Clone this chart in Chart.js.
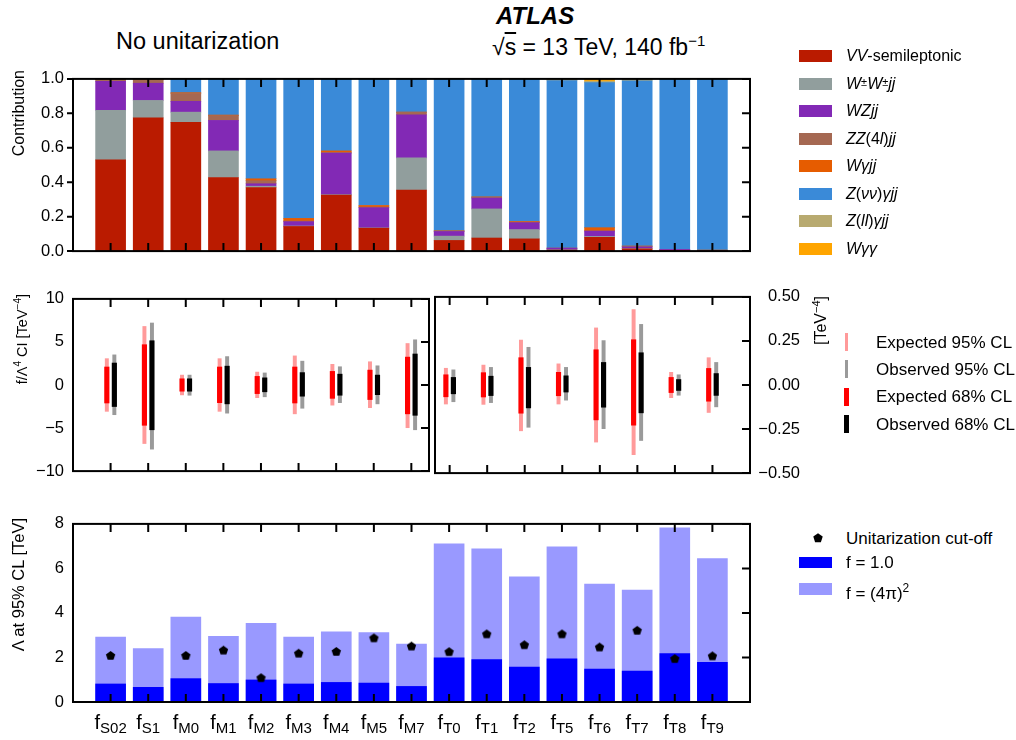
<!DOCTYPE html>
<html><head><meta charset="utf-8">
<script src="https://cdn.jsdelivr.net/npm/chart.js@4.4.1/dist/chart.umd.min.js"></script>
<style>
body{margin:0;background:#fff;}
#wrap{position:relative;width:1016px;height:740px;background:#fff;overflow:hidden;font-family:'Liberation Sans',Arial,Helvetica,sans-serif;color:#000;}
.abs{position:absolute;white-space:nowrap;}
canvas{position:absolute;}
.sw{position:absolute;width:33px;height:12px;}
.lt{position:absolute;font-size:16px;line-height:16px;white-space:nowrap;}
.vt{position:absolute;white-space:nowrap;transform-origin:0 0;transform:rotate(-90deg) translateX(-100%);}
.xl{position:absolute;top:712px;transform:translateX(-50%);white-space:nowrap;line-height:20px;}
.xf{font-size:20px;}
.xs{font-size:15px;position:relative;top:4px;}
.mk{position:absolute;width:5px;height:18px;}
</style></head><body><div id="wrap">
<canvas id="c1" width="800" height="210" style="left:0;top:60px"></canvas>
<canvas id="c2" width="440" height="210" style="left:0;top:280px"></canvas>
<canvas id="c3" width="400" height="210" style="left:420px;top:280px"></canvas>
<canvas id="c4" width="800" height="235" style="left:0;top:505px"></canvas>

<div class="abs" style="left:496px;top:4px;font-size:24px;line-height:24px;font-weight:bold;font-style:italic;">ATLAS</div>
<div class="abs" style="left:116px;top:30px;font-size:23.5px;line-height:23px;">No unitarization</div>
<div class="abs" style="left:492px;top:29px;font-size:23px;line-height:23px;">√<span style="text-decoration:overline">s</span> = 13 TeV, 140 fb<sup style="font-size:15px;">−1</sup></div>

<div class="vt" style="left:11px;top:70px;font-size:16px;line-height:16px;">Contribution</div>
<div class="vt" style="left:10px;top:294px;font-size:14.5px;line-height:16px;">f/Λ<sup style="font-size:10px">4</sup> CI [TeV<sup style="font-size:10px">−4</sup>]</div>
<div class="vt" style="left:807px;top:296px;font-size:16px;line-height:18px;">[TeV<sup style="font-size:11px">−4</sup>]</div>
<div class="vt" style="left:10px;top:518px;font-size:16.5px;line-height:16px;">Λ at 95% CL [TeV]</div>

<div id="leg1"></div>
<div id="leg2"></div>
<div id="leg3"></div>
</div>
<script>
// ---------------- data ----------------
const categories = ['S02','S1','M0','M1','M2','M3','M4','M5','M7','T0','T1','T2','T5','T6','T7','T8','T9'];

// Top panel: relative contribution of each analysis channel
const vvSemileptonic = [0.530,0.774,0.748,0.427,0.369,0.143,0.326,0.133,0.355,0.062,0.076,0.071,0.006,0.080,0.013,0.004,0.002];
const wpmwpmjj       = [0.288,0.101,0.059,0.155,0.008,0.003,0.002,0.002,0.186,0.025,0.169,0.054,0.002,0.005,0.002,0.001,0.000];
const wzjj           = [0.168,0.100,0.063,0.177,0.014,0.025,0.241,0.117,0.250,0.027,0.063,0.040,0.009,0.031,0.009,0.005,0.000];
const zz4ljj         = [0.012,0.020,0.045,0.028,0.018,0.004,0.004,0.004,0.016,0.002,0.005,0.003,0.000,0.002,0.005,0.000,0.000];
const wgammajj       = [0.002,0.000,0.005,0.003,0.011,0.015,0.009,0.009,0.000,0.002,0.002,0.004,0.000,0.018,0.000,0.000,0.004];
const znunugammajj   = [0.000,0.000,0.080,0.210,0.580,0.810,0.418,0.735,0.193,0.882,0.685,0.828,0.973,0.842,0.960,0.988,0.992];
const zllgammajj     = [0.000,0.005,0.000,0.000,0.000,0.000,0.000,0.000,0.000,0.000,0.000,0.000,0.010,0.009,0.011,0.002,0.002];
const wgammagamma    = [0.000,0.000,0.000,0.000,0.000,0.000,0.000,0.000,0.000,0.000,0.000,0.000,0.000,0.013,0.000,0.000,0.000];

// Middle panel: confidence intervals, [low, high]
// S/M operators (left axis, TeV^-4)
const smExp95 = [[-3.06,3.06],[-6.8,6.8],[-1.15,1.15],[-3.06,3.06],[-1.47,1.5],[-3.35,3.38],[-2.34,2.4],[-2.63,2.7],[-4.96,4.82]];
const smExp68 = [[-2.09,2.09],[-4.68,4.68],[-0.72,0.72],[-2.05,2.09],[-1.0,1.0],[-2.09,2.09],[-1.55,1.58],[-1.69,1.73],[-3.35,3.24]];
const smObs95 = [[-3.45,3.5],[-7.45,7.2],[-1.19,1.15],[-3.27,3.3],[-1.37,1.4],[-2.7,2.77],[-2.05,2.12],[-2.19,2.23],[-5.2,5.25]];
const smObs68 = [[-2.5,2.55],[-5.2,5.14],[-0.72,0.72],[-2.19,2.19],[-0.79,0.83],[-1.3,1.44],[-1.19,1.26],[-1.12,1.15],[-3.52,3.6]];
// T operators (right axis, TeV^-4)
const tExp95 = [[-0.108,0.095],[-0.11,0.113],[-0.26,0.255],[-0.108,0.12],[-0.324,0.324],[-0.396,0.428],[-0.072,0.072],[-0.156,0.155]];
const tExp68 = [[-0.067,0.058],[-0.068,0.07],[-0.16,0.155],[-0.061,0.072],[-0.198,0.2],[-0.228,0.257],[-0.043,0.043],[-0.092,0.094]];
const tObs95 = [[-0.095,0.086],[-0.10,0.10],[-0.24,0.214],[-0.086,0.10],[-0.248,0.252],[-0.315,0.344],[-0.058,0.058],[-0.124,0.128]];
const tObs68 = [[-0.05,0.043],[-0.06,0.05],[-0.13,0.10],[-0.04,0.052],[-0.126,0.128],[-0.158,0.183],[-0.031,0.031],[-0.059,0.065]];

// Bottom panel: Lambda at 95% CL [TeV]
const lambdaF1     = [0.81,0.66,1.05,0.83,0.99,0.81,0.88,0.85,0.70,1.98,1.91,1.57,1.94,1.48,1.39,2.17,1.78];
const lambdaF4pi2  = [2.92,2.40,3.81,2.95,3.53,2.92,3.15,3.12,2.60,7.10,6.88,5.62,6.97,5.30,5.03,7.82,6.44];
const unitCutoff   = [2.09,null,2.09,2.33,1.09,2.19,2.27,2.88,2.51,2.26,3.06,2.57,3.06,2.47,3.22,1.95,2.07];

// ---------------- styling ----------------
Chart.defaults.font.family = "'Liberation Sans', Arial, Helvetica, sans-serif";
Chart.defaults.font.size = 16;
Chart.defaults.color = '#000';
Chart.defaults.animation = false;

const topSeries = [
  {name:'<i>VV</i>-semileptonic', values: vvSemileptonic, color:'#BA1B00'},
  {name:'<i>W</i><span style="font-size:11px;position:relative;top:-3px">±</span><i>W</i><span style="font-size:11px;position:relative;top:-3px">±</span><i>jj</i>', values: wpmwpmjj, color:'#919E9D'},
  {name:'<i>WZjj</i>', values: wzjj, color:'#8229B5'},
  {name:'<i>ZZ</i>(4<i>l</i>)<i>jj</i>', values: zz4ljj, color:'#A56852'},
  {name:'<i>Wγjj</i>', values: wgammajj, color:'#E65C00'},
  {name:'<i>Z</i>(<i>νν</i>)<i>γjj</i>', values: znunugammajj, color:'#3A8AD8'},
  {name:'<i>Z</i>(<i>ll</i>)<i>γjj</i>', values: zllgammajj, color:'#B8AA70'},
  {name:'<i>Wγγ</i>', values: wgammagamma, color:'#FFA500'}
];

const framePlugin = {
  id: 'frame',
  afterDatasetsDraw(chart, args, o) {
    if (!o || !o.on) return;
    const ctx = chart.ctx, a = chart.chartArea;
    const xs = chart.scales.x, ys = chart.scales.y;
    ctx.save();
    ctx.strokeStyle = '#000';
    ctx.lineWidth = 2;
    ctx.beginPath();
    (o.xTicks || []).forEach(v => {
      const p = xs.getPixelForValue(v);
      ctx.moveTo(p, a.bottom); ctx.lineTo(p, a.bottom - 8);
      ctx.moveTo(p, a.top); ctx.lineTo(p, a.top + 8);
    });
    ys.ticks.forEach(t => {
      const p = ys.getPixelForValue(t.value);
      if (o.rightIn) { ctx.moveTo(a.right, p); ctx.lineTo(a.right - 8, p); }
      if (o.leftOut) { ctx.moveTo(a.left, p); ctx.lineTo(a.left - 6, p); }
    });
    ctx.stroke();
    ctx.strokeRect(a.left, a.top, a.right - a.left, a.bottom - a.top);
    ctx.restore();
  }
};

const allIdx = categories.map((c, i) => i);
const minus = s => String(s).replace('-', '\u2212');

function yAxis(min, max, step, fmt, width, extra) {
  return Object.assign({
    min, max,
    ticks: {stepSize: step, padding: 9, callback: fmt, font: {size: 16.5}, color: '#000'},
    grid: {display: false, drawTicks: false},
    border: {display: false},
    afterFit: s => { s.width = width; }
  }, extra || {});
}
function xAxis(min, max) {
  return {type: 'linear', min, max, offset: false, display: false, grid: {offset: false}};
}
const baseOpts = (padding) => ({
  responsive: false, animation: false,
  layout: {padding},
  plugins: {legend: {display: false}, tooltip: {enabled: false}}
});

// ---------------- top chart ----------------
const o1 = baseOpts({left: 0, top: 10, right: 50, bottom: 14});
o1.plugins.frame = {on: true, xTicks: allIdx, rightIn: true, leftOut: true};
o1.scales = {
  x: xAxis(-1, 17),
  y: yAxis(0, 1, 0.2, v => v.toFixed(1), 73, {stacked: true})
};
new Chart(document.getElementById('c1'), {
  type: 'bar',
  data: {datasets: topSeries.map(s => ({
    label: s.name.replace(/<[^>]+>/g, ''),
    data: s.values.map((v, i) => ({x: i, y: v})),
    backgroundColor: s.color, borderWidth: 0, barThickness: 30, stack: 's'
  }))},
  options: o1, plugins: [framePlugin]
});

// ---------------- middle charts ----------------
const dodge = 0.1;
function ciSets(exp95, exp68, obs95, obs68, offset) {
  const mk = (arr, d) => arr.map((r, i) => ({x: offset + i + d, y: r}));
  return [
    {label: 'Expected 68% CL', data: mk(exp68, -dodge), backgroundColor: '#FF0000', barThickness: 4.5, grouped: false, order: 1, borderWidth: 0},
    {label: 'Observed 68% CL', data: mk(obs68, dodge), backgroundColor: '#000000', barThickness: 4.5, grouped: false, order: 1, borderWidth: 0},
    {label: 'Expected 95% CL', data: mk(exp95, -dodge), backgroundColor: '#FF9A9A', barThickness: 3.3, grouped: false, order: 2, borderWidth: 0},
    {label: 'Observed 95% CL', data: mk(obs95, dodge), backgroundColor: '#9A9A9A', barThickness: 3.3, grouped: false, order: 2, borderWidth: 0}
  ];
}
const nSM = smExp95.length;
const o2 = baseOpts({left: 0, top: 14, right: 11, bottom: 11});
o2.plugins.frame = {on: true, xTicks: allIdx.slice(0, nSM), rightIn: true};
o2.scales = {
  x: xAxis(-1, 8.47),
  y: yAxis(-10, 10, 5, v => minus(v), 73)
};
new Chart(document.getElementById('c2'), {
  type: 'bar',
  data: {datasets: ciSets(smExp95, smExp68, smObs95, smObs68, 0)},
  options: o2, plugins: [framePlugin]
});

const o3 = baseOpts({left: 15, top: 14, right: 20, bottom: 11});
o3.plugins.frame = {on: true, xTicks: allIdx.slice(nSM), rightIn: true};
o3.scales = {
  x: xAxis(8.61, 17),
  y: yAxis(-0.5, 0.5, 0.25, v => minus(v.toFixed(2)), 50, {position: 'right'})
};
o3.scales.y.ticks.crossAlign = 'far';
o3.scales.y.ticks.padding = 7;
new Chart(document.getElementById('c3'), {
  type: 'bar',
  data: {datasets: ciSets(tExp95, tExp68, tObs95, tObs68, nSM)},
  options: o3, plugins: [framePlugin]
});

// ---------------- bottom chart ----------------
const pent = document.createElement('canvas');
pent.width = 11; pent.height = 11;
(function () {
  const g = pent.getContext('2d');
  g.fillStyle = '#000';
  g.beginPath();
  for (let k = 0; k < 5; k++) {
    const ang = -Math.PI / 2 + k * 2 * Math.PI / 5;
    const px = 5.5 + 4.9 * Math.cos(ang), py = 5.9 + 4.9 * Math.sin(ang);
    if (k === 0) g.moveTo(px, py); else g.lineTo(px, py);
  }
  g.closePath(); g.fill();
})();

const o4 = baseOpts({left: 0, top: 12, right: 50, bottom: 38});
o4.plugins.frame = {on: true, xTicks: allIdx, rightIn: true};
o4.scales = {
  x: xAxis(-1, 17),
  y: yAxis(0, 8, 2, v => String(v), 73)
};
const chart4 = new Chart(document.getElementById('c4'), {
  type: 'bar',
  data: {datasets: [
    {type: 'scatter', label: 'Unitarization cut-off',
     data: unitCutoff.map((v, i) => (v === null ? null : {x: i, y: v})).filter(p => p),
     pointStyle: pent, pointRadius: 5, order: 0},
    {label: 'f = 1.0', data: lambdaF1.map((v, i) => ({x: i, y: v})), backgroundColor: '#0000FF', barThickness: 30, grouped: false, order: 1, borderWidth: 0},
    {label: 'f = (4π)²', data: lambdaF4pi2.map((v, i) => ({x: i, y: v})), backgroundColor: '#9999FF', barThickness: 30, grouped: false, order: 2, borderWidth: 0}
  ]},
  options: o4, plugins: [framePlugin]
});

// ---------------- HTML labels & legends ----------------
const wrap = document.getElementById('wrap');
const xs4 = chart4.scales.x;
categories.forEach((c, i) => {
  const d = document.createElement('div');
  d.className = 'xl';
  d.style.left = xs4.getPixelForValue(i) + 'px';
  d.innerHTML = '<span class="xf">f</span><span class="xs">' + c + '</span>';
  wrap.appendChild(d);
});

const leg1 = document.getElementById('leg1');
const rows1 = [56, 83.5, 111, 138.5, 166, 193.5, 221, 248.5];
topSeries.forEach((s, k) => {
  leg1.insertAdjacentHTML('beforeend',
    '<div class="sw" style="left:799px;top:' + (rows1[k] - 6) + 'px;background:' + s.color + '"></div>' +
    '<div class="lt" style="left:846px;top:' + (rows1[k] - 8) + 'px">' + s.name + '</div>');
});

const leg2 = document.getElementById('leg2');
const rows2 = [342, 369, 396.5, 424];
[['Expected 95% CL', '#FF9A9A', 3.3], ['Observed 95% CL', '#9A9A9A', 3.3], ['Expected 68% CL', '#FF0000', 5], ['Observed 68% CL', '#000000', 5]].forEach((r, k) => {
  leg2.insertAdjacentHTML('beforeend',
    '<div class="mk" style="left:' + (846.5 - r[2] / 2) + 'px;width:' + r[2] + 'px;top:' + (rows2[k] - 9) + 'px;background:' + r[1] + '"></div>' +
    '<div class="lt" style="left:876px;top:' + (rows2[k] - 8.5) + 'px;font-size:17px;line-height:17px">' + r[0] + '</div>');
});

const leg3 = document.getElementById('leg3');
leg3.insertAdjacentHTML('beforeend',
  '<svg style="position:absolute;left:812px;top:532px" width="12" height="12"><polygon points="6,1.2 10.7,4.6 8.9,10.2 3.1,10.2 1.3,4.6" fill="#000"/></svg>' +
  '<div class="lt" style="left:846px;top:530px;font-size:17px;line-height:17px">Unitarization cut-off</div>' +
  '<div class="sw" style="left:799px;top:557px;height:11px;background:#0000FF"></div>' +
  '<div class="lt" style="left:846px;top:554px;font-size:17px;line-height:17px">f = 1.0</div>' +
  '<div class="sw" style="left:799px;top:583px;background:#9999FF"></div>' +
  '<div class="lt" style="left:846px;top:580px;font-size:17px;line-height:17px">f = (4π)<sup style="font-size:12px">2</sup></div>');
</script>
</body></html>
